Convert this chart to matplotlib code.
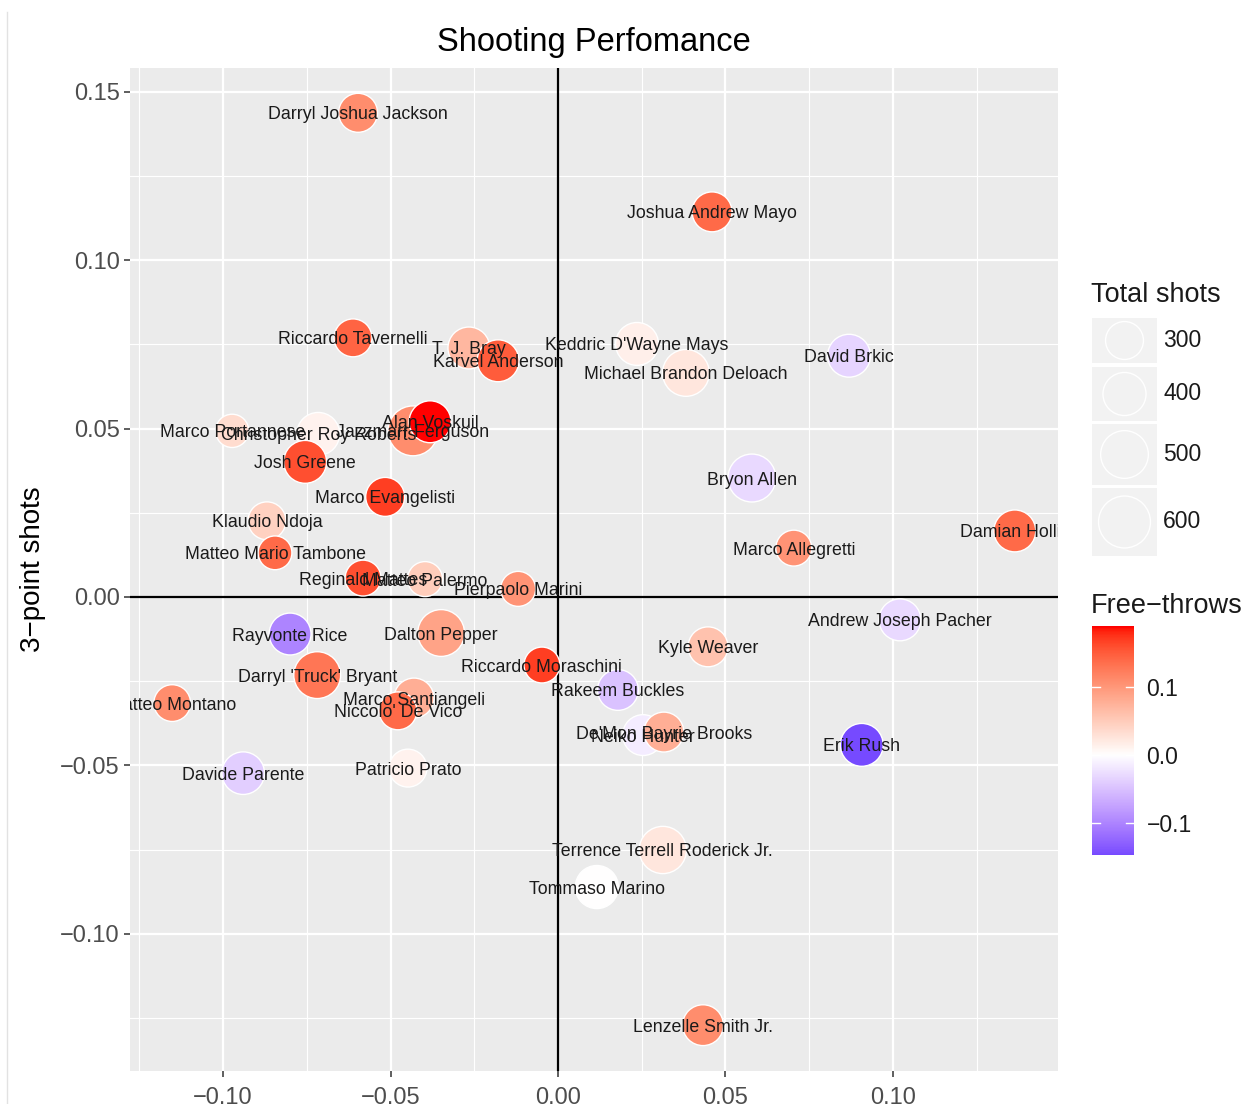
import numpy as np
import matplotlib
matplotlib.use("Agg")
import matplotlib.pyplot as plt
import matplotlib.colors as mcolors
from matplotlib.ticker import FixedLocator, FuncFormatter

plt.rcParams['font.family'] = ['Liberation Sans', 'DejaVu Sans']

# --- data ---
players = [
    "Darryl Joshua Jackson", "Joshua Andrew Mayo", "Riccardo Tavernelli", "T. J. Bray",
    "Karvel Anderson", "Keddric D'Wayne Mays", "Michael Brandon Deloach", "David Brkic",
    "Marco Portannese", "Christopher Roy Roberts", "Jazzmarr Ferguson", "Alan Voskuil",
    "Josh Greene", "Marco Evangelisti", "Klaudio Ndoja", "Matteo Mario Tambone",
    "Reginald Mattes", "Matteo Palermo", "Pierpaolo Marini", "Rayvonte Rice",
    "Dalton Pepper", "Riccardo Moraschini", "Darryl 'Truck' Bryant", "Matteo Montano",
    "Marco Santiangeli", "Niccolo' De Vico", "Kyle Weaver", "Rakeem Buckles",
    "Neiko Hunter", "De'Mon Bayrie Brooks", "Andrew Joseph Pacher", "Erik Rush",
    "Bryon Allen", "Marco Allegretti", "Damian Hollis", "Davide Parente",
    "Patricio Prato", "Terrence Terrell Roderick Jr.", "Tommaso Marino", "Lenzelle Smith Jr.",
]
two_pt = [
    -0.0597, 0.0460, -0.0612, -0.0266, -0.0179, 0.0236, 0.0382, 0.0869,
    -0.0973, -0.0716, -0.0433, -0.0382, -0.0755, -0.0516, -0.0869, -0.0845,
    -0.0582, -0.0397, -0.0119, -0.0800, -0.0349, -0.0048, -0.0719, -0.1152,
    -0.0430, -0.0478, 0.0448, 0.0179, 0.0254, 0.0316, 0.1021, 0.0907,
    0.0579, 0.0704, 0.1364, -0.0940, -0.0448, 0.0313, 0.0116, 0.0433,
]
three_pt = [
    0.1437, 0.1143, 0.0769, 0.0739, 0.0701, 0.0751, 0.0665, 0.0716,
    0.0493, 0.0484, 0.0493, 0.0520, 0.0401, 0.0297, 0.0226, 0.0131,
    0.0056, 0.0053, 0.0024, -0.0110, -0.0107, -0.0202, -0.0232, -0.0315,
    -0.0300, -0.0338, -0.0148, -0.0276, -0.0410, -0.0401, -0.0068, -0.0439,
    0.0353, 0.0145, 0.0196, -0.0523, -0.0508, -0.0751, -0.0861, -0.1271,
]
free_throws = [
    0.110, 0.140, 0.145, 0.070, 0.150, 0.015, 0.025, -0.035,
    0.035, 0.012, 0.110, 0.190, 0.160, 0.170, 0.045, 0.140,
    0.160, 0.050, 0.105, -0.100, 0.090, 0.170, 0.130, 0.110,
    0.080, 0.140, 0.060, -0.050, -0.015, 0.080, -0.030, -0.147,
    -0.030, 0.105, 0.140, -0.040, 0.012, 0.025, 0.000, 0.110,
]
total_shots = [
    320, 337, 300, 376, 376, 396, 480, 396,
    222, 396, 550, 376, 396, 320, 300, 230,
    265, 250, 250, 376, 480, 265, 480, 280,
    337, 300, 337, 355, 355, 337, 376, 396,
    505, 265, 376, 390, 300, 490, 400, 355,
]
size_breaks = [300, 400, 500, 600]
ft_breaks = [-0.1, 0.0, 0.1]


# --- ggplot-like gradient2 (blue - white - red, interpolated in Lab) ---
M = np.array([[0.4124, 0.3576, 0.1805], [0.2126, 0.7152, 0.0722], [0.0193, 0.1192, 0.9505]])
WHITE = np.array([0.95047, 1.0, 1.08883])


def to_lab(c):
    rgb = np.array(mcolors.to_rgb(c))
    lin = np.where(rgb <= 0.04045, rgb / 12.92, ((rgb + 0.055) / 1.055) ** 2.4)
    xyz = M @ lin / WHITE
    f = np.where(xyz > 0.008856, np.cbrt(xyz), 7.787 * xyz + 16 / 116)
    return np.array([116 * f[1] - 16, 500 * (f[0] - f[1]), 200 * (f[1] - f[2])])


def from_lab(lab):
    fy = (lab[0] + 16) / 116
    f = np.array([fy + lab[1] / 500, fy, fy - lab[2] / 200])
    xyz = np.where(f ** 3 > 0.008856, f ** 3, (f - 16 / 116) / 7.787) * WHITE
    lin = np.clip(np.linalg.solve(M, xyz), 0, None)
    rgb = np.where(lin <= 0.0031308, 12.92 * lin, 1.055 * lin ** (1 / 2.4) - 0.055)
    return np.clip(rgb, 0, 1)


low, mid, high = to_lab("#0000ff"), to_lab("#ffffff"), to_lab("#ff0000")
ramp = []
for t in np.linspace(0, 1, 256):
    if t < 0.5:
        ramp.append(from_lab(low + (mid - low) * t / 0.5))
    else:
        ramp.append(from_lab(mid + (high - mid) * (t - 0.5) / 0.5))
cmap = mcolors.LinearSegmentedColormap.from_list("grad2", ramp)
lim = max(abs(min(free_throws)), abs(max(free_throws)))
norm = mcolors.Normalize(vmin=-lim, vmax=lim)


def marker_area(shots):
    return 90 + 2.18 * np.asarray(shots)


W, H = 1255, 1104
fig = plt.figure(figsize=(W / 100, H / 100), dpi=100)
ax = fig.add_axes([130 / W, 1 - 1071 / H, 928 / W, 1003 / H])

ax.set_facecolor('#EBEBEB')
for s in ax.spines.values():
    s.set_visible(False)
ax.set_xlim(-0.1278, 0.1493)
ax.set_ylim(-0.1407, 0.157)
ax.xaxis.set_major_locator(FixedLocator([-0.1, -0.05, 0, 0.05, 0.1]))
ax.yaxis.set_major_locator(FixedLocator([-0.1, -0.05, 0, 0.05, 0.1, 0.15]))
ax.xaxis.set_minor_locator(FixedLocator([-0.125, -0.075, -0.025, 0.025, 0.075, 0.125]))
ax.yaxis.set_minor_locator(FixedLocator([-0.125, -0.075, -0.025, 0.025, 0.075, 0.125]))
fmt = FuncFormatter(lambda v, _: f"{abs(v):.2f}" if abs(v) < 1e-9 else f"{v:.2f}".replace('-', '\u2212'))
ax.xaxis.set_major_formatter(fmt)
ax.yaxis.set_major_formatter(fmt)
ax.grid(which='major', color='white', linewidth=1.6)
ax.grid(which='minor', color='white', linewidth=0.8)
ax.set_axisbelow(True)
ax.tick_params(which='major', length=4.3, width=1.1, color='#333333',
               labelcolor='#4d4d4d', labelsize=17)
ax.tick_params(axis='y', pad=3)
ax.tick_params(axis='x', pad=7)
ax.tick_params(which='minor', length=0)

ax.axhline(0, color='black', linewidth=1.6, zorder=1)
ax.axvline(0, color='black', linewidth=1.6, zorder=1)

ax.scatter(two_pt, three_pt, s=marker_area(total_shots), c=free_throws, cmap=cmap, norm=norm,
           edgecolors='white', linewidths=1.0, zorder=2)
for name, x, y in zip(players, two_pt, three_pt):
    ax.text(x, y, name, ha='center', va='center_baseline', fontsize=12.8, color='#1a1a1a',
            clip_on=True, zorder=3)

ax.set_title("Shooting Perfomance", fontsize=23.5, pad=12)
ax.set_ylabel("3\u2212point shots", fontsize=20)
ax.yaxis.set_label_coords(-0.09, 0.5)

# --- legends, drawn by hand in pixel coordinates ---
ov = fig.add_axes([0, 0, 1, 1], zorder=5)
ov.set_xlim(0, W)
ov.set_ylim(H, 0)
ov.axis('off')
ov.patch.set_alpha(0)

ov.plot([7, 7], [12, H], color='#e2e2e2', linewidth=1)

ov.text(1091, 295, "Total shots", fontsize=19.5, va='center', ha='left', color='#1a1a1a')
key_top = [318, 367, 424, 488]
key_h = [45, 54, 61, 68]
for v, top, h in zip(size_breaks, key_top, key_h):
    ov.add_patch(plt.Rectangle((1092, top), 65, h, facecolor='#F2F2F2', edgecolor='none'))
    ov.scatter([1124.5], [top + h / 2], s=marker_area(v), facecolors='none',
               edgecolors='white', linewidths=1.0)
    ov.text(1163, top + h / 2, str(v), fontsize=16.5, va='center', ha='left', color='#1a1a1a')

ov.text(1091, 606, "Free\u2212throws", fontsize=19.5, va='center', ha='left', color='#1a1a1a')
cax = fig.add_axes([1092 / W, 1 - 855 / H, 42 / W, 229 / H])
fmin, fmax = min(free_throws), max(free_throws)
cax.imshow(np.linspace(fmin, fmax, 300)[:, None], aspect='auto', origin='lower',
           extent=[0, 1, fmin, fmax], cmap=cmap, norm=norm)
cax.set_xlim(0, 1)
cax.set_ylim(fmin, fmax)
for s in cax.spines.values():
    s.set_visible(False)
cax.set_xticks([])
cax.yaxis.tick_right()
cax.set_yticks(ft_breaks)
cax.set_yticklabels([f"{v:.1f}".replace('-', '\u2212') for v in ft_breaks])
cax.tick_params(length=0, labelsize=16.5, labelcolor='#1a1a1a', pad=9)
for v in ft_breaks:
    cax.plot([0, 0.2], [v, v], color='white', linewidth=1)
    cax.plot([0.8, 1], [v, v], color='white', linewidth=1)

fig.savefig("out.png", dpi=100)
